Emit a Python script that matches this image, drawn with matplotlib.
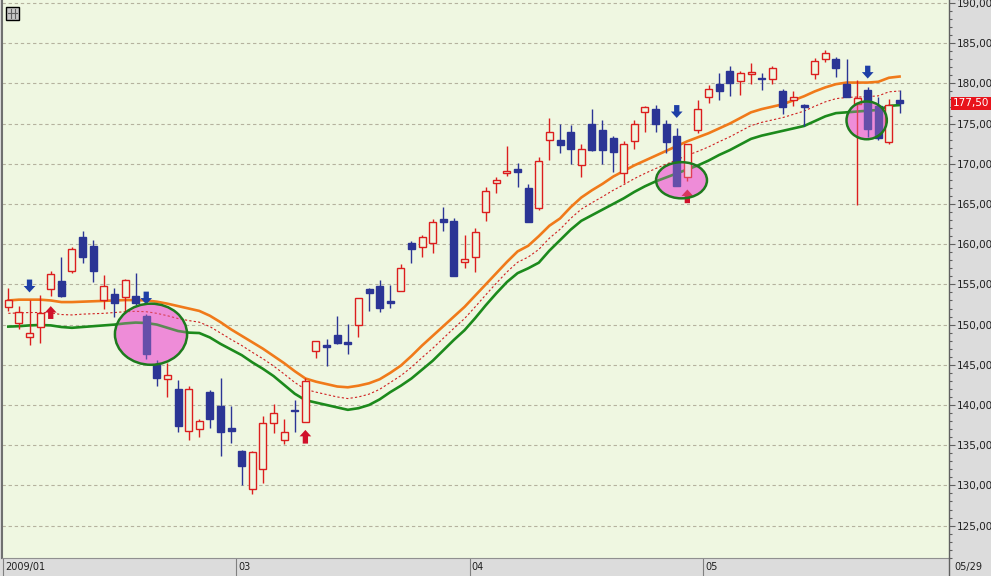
import matplotlib
matplotlib.use("Agg")
import matplotlib.pyplot as plt
import matplotlib.transforms as mtransforms
from matplotlib.patches import Ellipse, Rectangle
from matplotlib.lines import Line2D
import numpy as np

# daily candles, 2009/01 .. 05/29
opens = [152.2, 150.2, 148.4, 149.7, 154.4, 155.4, 156.7, 160.9, 159.8, 153.0,
         153.8, 153.4, 153.6, 151.1, 145.0, 143.2, 142.0, 136.8, 137.0, 141.6,
         139.9, 137.1, 134.3, 129.5, 132.1, 137.8, 135.6, 139.4, 137.9, 146.7,
         147.4, 148.7, 147.8, 149.9, 154.4, 154.8, 152.9, 154.2, 160.1, 159.7,
         160.1, 163.1, 162.9, 157.75, 158.4, 164.0, 167.65, 168.9, 169.3, 166.95,
         164.5, 172.9, 173.0, 173.9, 169.9, 174.95, 174.2, 173.2, 168.8, 172.8,
         176.4, 176.8, 174.95, 173.45, 168.4, 174.2, 178.3, 179.9, 181.5, 180.3,
         181.2, 180.6, 180.5, 179.05, 177.9, 177.3, 181.2, 183.0, 183.0, 179.9,
         177.4, 179.2, 177.2, 172.75, 177.9]
highs = [154.6, 152.3, 153.0, 153.7, 156.7, 158.4, 159.7, 161.6, 160.5, 156.2,
         154.6, 155.7, 156.4, 151.3, 145.6, 145.2, 143.1, 142.4, 138.3, 141.9,
         143.3, 139.9, 134.4, 134.3, 138.6, 140.1, 138.3, 140.6, 143.3, 148.0,
         148.2, 151.1, 150.1, 153.3, 154.6, 155.6, 154.9, 157.5, 160.4, 161.2,
         163.1, 164.6, 163.3, 161.1, 162.0, 167.15, 168.4, 172.2, 170.1, 167.5,
         170.8, 175.7, 174.95, 174.8, 172.4, 176.8, 175.4, 173.4, 172.8, 175.4,
         177.2, 177.3, 175.5, 174.5, 172.5, 177.9, 179.8, 181.3, 182.1, 181.5,
         182.5, 181.25, 182.1, 179.3, 179.1, 177.4, 183.1, 184.15, 183.3, 183.0,
         180.4, 179.5, 178.3, 178.1, 179.2]
lows = [151.7, 149.5, 147.5, 147.7, 153.5, 153.4, 156.4, 157.6, 155.3, 152.0,
        150.9, 151.4, 152.4, 145.7, 142.3, 141.0, 136.7, 135.7, 136.0, 137.2,
        133.7, 135.3, 130.05, 128.9, 130.3, 136.55, 135.15, 136.7, 137.9, 145.9,
        144.8, 147.55, 146.3, 148.4, 151.7, 151.6, 152.1, 154.2, 157.6, 158.4,
        158.9, 161.7, 156.0, 157.1, 156.6, 162.9, 166.4, 168.5, 167.15, 162.8,
        164.2, 170.5, 171.4, 170.0, 168.4, 171.6, 170.0, 169.0, 167.65, 171.8,
        174.0, 174.0, 171.4, 167.2, 167.8, 173.8, 177.6, 177.9, 178.4, 178.55,
        179.9, 179.2, 179.9, 176.2, 177.2, 174.7, 180.6, 182.6, 180.8, 178.3,
        164.9, 173.3, 173.0, 172.5, 176.3]
closes = [153.0, 151.6, 149.0, 151.4, 156.3, 153.5, 159.4, 158.4, 156.7, 154.8,
          152.65, 155.6, 152.7, 146.3, 143.4, 143.7, 137.4, 141.95, 138.0, 138.3,
          136.7, 136.8, 132.4, 134.2, 137.8, 139.0, 136.7, 139.3, 143.0, 148.0,
          147.25, 147.75, 147.55, 153.3, 153.9, 152.1, 152.65, 157.1, 159.4, 160.9,
          162.8, 162.8, 156.1, 158.1, 161.5, 166.65, 168.0, 169.1, 169.0, 162.8,
          170.3, 173.9, 172.3, 171.8, 171.9, 171.7, 171.7, 171.5, 172.4, 174.95,
          177.0, 175.0, 172.7, 167.2, 172.4, 176.8, 179.3, 179.0, 180.1, 181.25,
          181.4, 180.5, 181.9, 177.1, 178.3, 177.0, 182.8, 183.8, 181.95, 178.3,
          178.2, 174.3, 173.2, 177.3, 177.5]

# envelope lines
upper = [153.0, 153.1, 153.1, 153.1, 153.0, 152.8, 152.8, 152.85, 152.9, 152.95,
         153.0, 153.05, 153.05, 153.0, 152.85, 152.6, 152.3, 152.0, 151.7, 151.1,
         150.3, 149.4, 148.6, 147.8, 147.0, 146.1, 145.2, 144.2, 143.3, 142.9,
         142.6, 142.3, 142.2, 142.4, 142.7, 143.2, 144.0, 144.9, 146.1, 147.4,
         148.6, 149.8, 151.0, 152.2, 153.6, 155.0, 156.4, 157.8, 159.1, 159.8,
         161.0, 162.3, 163.2, 164.6, 165.8, 166.7, 167.5, 168.4, 169.1, 169.8,
         170.4, 171.0, 171.6, 172.2, 172.8, 173.3, 173.8, 174.4, 175.0, 175.7,
         176.4, 176.8, 177.1, 177.4, 177.9, 178.4, 179.0, 179.5, 179.9, 180.1,
         180.1, 180.1, 180.2, 180.7, 180.85]
middle = [151.4, 151.45, 151.5, 151.5, 151.45, 151.25, 151.2, 151.3, 151.35, 151.4,
          151.5, 151.6, 151.65, 151.6, 151.4, 151.1, 150.75, 150.5, 150.3, 149.75,
          148.95, 148.15, 147.4, 146.55, 145.75, 144.85, 143.85, 142.8, 141.95, 141.6,
          141.3, 141.0, 140.8, 141.0, 141.35, 141.95, 142.8, 143.65, 144.7, 145.9,
          147.05, 148.3, 149.55, 150.75, 152.2, 153.7, 155.15, 156.55, 157.75, 158.4,
          159.35, 160.75, 161.85, 163.2, 164.35, 165.15, 165.9, 166.7, 167.4, 168.15,
          168.8, 169.4, 169.95, 170.5, 171.05, 171.55, 172.1, 172.75, 173.35, 174.05,
          174.75, 175.15, 175.45, 175.75, 176.15, 176.55, 177.15, 177.7, 178.1, 178.25,
          178.3, 178.35, 178.45, 178.95, 179.05]
lower = [149.75, 149.8, 149.9, 149.95, 149.9, 149.7, 149.6, 149.7, 149.8, 149.9,
         150.0, 150.15, 150.25, 150.2, 150.0, 149.6, 149.2, 149.0, 148.95, 148.4,
         147.6, 146.9, 146.2, 145.3, 144.5, 143.6, 142.5, 141.4, 140.6, 140.3,
         140.0, 139.7, 139.4, 139.6, 140.0, 140.7, 141.6, 142.4, 143.3, 144.4,
         145.5, 146.8, 148.1, 149.3, 150.8, 152.4, 153.9, 155.3, 156.4, 157.0,
         157.7, 159.2, 160.5, 161.8, 162.9, 163.6, 164.3, 165.0, 165.7, 166.5,
         167.2, 167.8, 168.3, 168.8, 169.3, 169.8, 170.4, 171.1, 171.7, 172.4,
         173.1, 173.5, 173.8, 174.1, 174.4, 174.7, 175.3, 175.9, 176.3, 176.4,
         176.5, 176.6, 176.7, 177.2, 177.3]

# signal arrows (bar index, start value, end value)
sell_arrows = [(2, 155.6, 154.0), (13, 154.1, 152.5), (63, 177.3, 175.7), (81, 182.2, 180.6)]
buy_arrows = [(4, 150.7, 152.3), (28, 135.2, 136.9), (64, 165.1, 166.8)]

# highlighted zones (bar index, value, width in bars, height in value)
zones = [(13.45, 148.8, 6.8, 7.6), (63.45, 167.95, 4.8, 4.5), (80.9, 175.4, 3.8, 4.7)]

month_pos = [-0.5, 21.5, 43.5, 65.5]
month_lbl = ["2009/01", "03", "04", "05"]
last_date = "05/29"
last_price = 177.50

bg = "#EFF7E1"
up_c = "#DC1E1E"
dn_c = "#2B3595"

fig = plt.figure(figsize=(9.91, 5.76), dpi=100, facecolor="#DCDCDC")
ax = fig.add_axes([2 / 991, 18 / 576, 947 / 991, 558 / 576])
ax.set_facecolor(bg)

x = np.arange(len(opens))
ax.plot(x, upper, color="#F07A1A", lw=1.9, zorder=3)
ax.plot(x, lower, color="#1C8A1C", lw=1.9, zorder=3)
ax.plot(x, middle, color="#D02020", lw=0.8, dashes=(2, 2), zorder=3)

for i in x:
    o, h, l, c = opens[i], highs[i], lows[i], closes[i]
    col = up_c if c >= o else dn_c
    ax.vlines(i, l, h, color=col, lw=1.0, zorder=4)
    body = max(abs(c - o), 0.12)
    ax.bar(i, body, bottom=min(o, c), width=0.66,
           facecolor=bg if c >= o else dn_c, edgecolor=col, lw=1.0, zorder=5)

for xi, y0, y1 in sell_arrows:
    ax.arrow(xi, y0, 0, y1 - y0, width=0.5, head_width=1.1, head_length=0.8,
             length_includes_head=True, color="#1E3FA6", lw=0, zorder=6)
for xi, y0, y1 in buy_arrows:
    ax.arrow(xi, y0, 0, y1 - y0, width=0.5, head_width=1.1, head_length=0.8,
             length_includes_head=True, color="#D0102A", lw=0, zorder=6)

for xc, yc, w, h in zones:
    ax.add_patch(Ellipse((xc, yc), w, h, facecolor="#EE8CD8", edgecolor="none", zorder=2))
    ax.add_patch(Ellipse((xc, yc), w, h, facecolor="#EE8CD8", alpha=0.3, edgecolor="none", zorder=6.5))
    ax.add_patch(Ellipse((xc, yc), w, h, facecolor="none", edgecolor="#1E7A1E", lw=1.8, zorder=7))

ax.set_xlim(-0.594, 88.66)
ax.set_ylim(120.97, 190.37)

ax.yaxis.tick_right()
ax.set_yticks(np.arange(125, 191, 5))
ax.set_yticks(np.arange(121, 191, 1), minor=True)
ax.set_yticklabels([f"{v:.2f}".replace(".", ",") for v in np.arange(125, 191, 5)])
ax.tick_params(axis="y", which="major", length=4.5, width=0.8, color="#606060",
               labelsize=7.5, labelcolor="#202020", pad=1)
ax.tick_params(axis="y", which="minor", length=2.5, width=0.8, color="#606060")
ax.grid(axis="y", which="major", color="#B5B29E", lw=0.8, dashes=(3, 2.5))

ax.set_xticks(month_pos)
ax.set_xticklabels([])
ax.tick_params(axis="x", length=13, width=0.8, color="#808080", direction="out")
off = mtransforms.offset_copy(ax.get_xaxis_transform(), fig=fig, x=2, y=0, units="dots")
for p, s in zip(month_pos, month_lbl):
    ax.text(p, -9 / 558, s, transform=off, fontsize=7, ha="left", va="center", color="#202020")
ax.text(1, -9 / 558, last_date, transform=mtransforms.offset_copy(ax.transAxes, fig=fig, x=5, y=0, units="dots"),
        fontsize=7, ha="left", va="center", color="#202020")

ax.spines["top"].set_visible(False)
ax.spines["left"].set_color("#707070")
ax.spines["left"].set_linewidth(1.5)
ax.spines["right"].set_color("#606060")
ax.spines["right"].set_linewidth(1.0)
ax.spines["bottom"].set_color("#909090")
ax.spines["bottom"].set_linewidth(0.8)

ax.annotate(f"{last_price:.2f}".replace(".", ","), xy=(1, last_price), xycoords=("axes fraction", "data"),
            xytext=(4, 0), textcoords="offset pixels", ha="left", va="center", fontsize=7.5,
            color="white", annotation_clip=False,
            bbox=dict(boxstyle="square,pad=0.15", fc="#E8141C", ec="none"))

fig.add_artist(Line2D([949 / 991, 949 / 991], [0, 18 / 576], color="#606060", lw=1.0))

# small table icon in the corner
icon = fig.transFigure
fig.add_artist(Rectangle((6 / 991, 556 / 576), 13 / 991, 13 / 576, transform=icon,
                         facecolor="#C8C8C8", edgecolor="black", lw=1.0))
for fx in (10.5, 14.5):
    fig.add_artist(Line2D([fx / 991, fx / 991], [558 / 576, 567 / 576], color="#606060", lw=0.8))
fig.add_artist(Line2D([8 / 991, 17 / 991], [563 / 576, 563 / 576], color="#606060", lw=0.8))

fig.savefig("out.png", dpi=100, facecolor=fig.get_facecolor())
